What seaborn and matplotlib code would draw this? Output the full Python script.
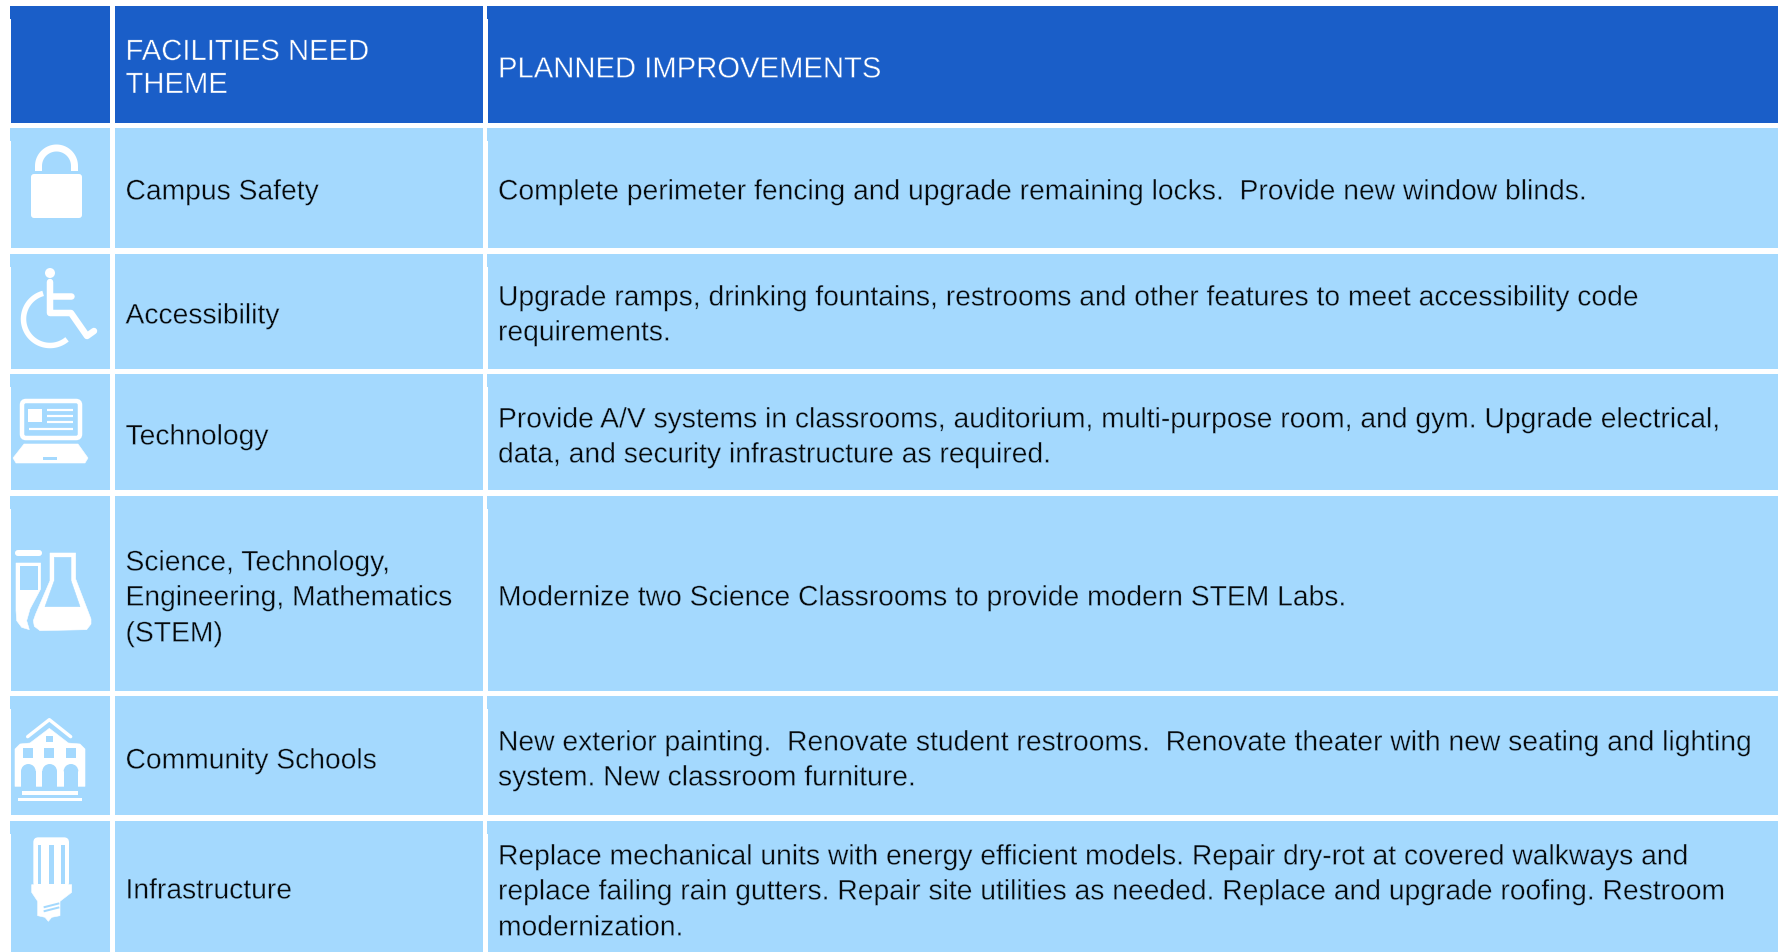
import numpy as np
import matplotlib
matplotlib.use("Agg")
import matplotlib.pyplot as plt
import matplotlib.patheffects as pe
from matplotlib.patches import Polygon, Rectangle, FancyBboxPatch, Circle, Wedge
import seaborn as sns

# === TABLE CONTENT ===
HEADER_THEME = ["FACILITIES NEED", "THEME"]
HEADER_PLAN = ["PLANNED IMPROVEMENTS"]

themes = [
    ["Campus Safety"],
    ["Accessibility"],
    ["Technology"],
    ["Science, Technology,", "Engineering, Mathematics", "(STEM)"],
    ["Community Schools"],
    ["Infrastructure"],
]
improvements = [
    ["Complete perimeter fencing and upgrade remaining locks.  Provide new window blinds."],
    ["Upgrade ramps, drinking fountains, restrooms and other features to meet accessibility code",
     "requirements."],
    ["Provide A/V systems in classrooms, auditorium, multi-purpose room, and gym. Upgrade electrical,",
     "data, and security infrastructure as required."],
    ["Modernize two Science Classrooms to provide modern STEM Labs."],
    ["New exterior painting.  Renovate student restrooms.  Renovate theater with new seating and lighting",
     "system. New classroom furniture."],
    ["Replace mechanical units with energy efficient models. Repair dry-rot at covered walkways and",
     "replace failing rain gutters. Repair site utilities as needed. Replace and upgrade roofing. Restroom",
     "modernization."],
]

# === LAYOUT (pixels) ===
W, H = 1778, 953
COLS = [(11, 110), (115, 483), (488, 1778)]
ROWS = [(7, 124), (129, 249), (255, 370), (375, 491), (497, 692), (697, 816), (822, 953)]
THEME_BASE = [[61, 94], [200.5], [324.5], [445.5], [571.5, 606.5, 642.5], [769.5], [899.5]]
PLAN_BASE = [[78.5], [200.5], [306.5, 341.5], [428.5, 463.5], [606.5], [751.5, 786.5], [865.5, 900.5, 936.5]]
TEXT_X = [125.5, 498]

DARK = "#1A5EC8"
LIGHT = "#A4D9FE"
WHITE = "#FFFFFF"
INK = "#05090C"
FONT = ["Liberation Sans", "DejaVu Sans"]
FS = 20.35
FS_HEAD = 21.05

sns.set_theme(style="white")
plt.rcParams["font.family"] = FONT

fig = plt.figure(figsize=(W / 100, H / 100), dpi=100, facecolor=WHITE)
ax = fig.add_axes([0, 0, 1, 1])


def cell(x0, x1, y0, y1, color):
    sns.barplot(x=[(x0 + x1) / 2], y=[y1 - y0], bottom=y0, width=x1 - x0, native_scale=True,
                color=color, saturation=1, errorbar=None, linewidth=0, ax=ax)


def label(x, y, line, color, size, bg):
    # thin stroke in the cell colour shaves the glyphs down to a light weight
    ax.text(x, y, line, color=color, fontsize=size, va="baseline",
            path_effects=[pe.Stroke(linewidth=0.28, foreground=bg)])


# === CELLS ===
for r, (y0, y1) in enumerate(ROWS):
    color = DARK if r == 0 else LIGHT
    for c, (x0, x1) in enumerate(COLS):
        cell(x0, x1, y0, y1, color)
        if c != 1:
            cell(x0 - 1, x0, y0, y0 + 13, color)

# === TEXT ===
for line, y in zip(HEADER_THEME, THEME_BASE[0]):
    label(TEXT_X[0], y, line, WHITE, FS_HEAD, DARK)
for line, y in zip(HEADER_PLAN, PLAN_BASE[0]):
    label(TEXT_X[1], y, line, WHITE, FS_HEAD, DARK)
for r in range(len(themes)):
    for line, y in zip(themes[r], THEME_BASE[r + 1]):
        label(TEXT_X[0], y, line, INK, FS, LIGHT)
    for line, y in zip(improvements[r], PLAN_BASE[r + 1]):
        label(TEXT_X[1], y, line, INK, FS, LIGHT)


# === ICONS ===
def px(v):
    return v * 0.72  # pixels to points at dpi 100


def poly(pts, color=WHITE, ox=0, oy=0, s=1 / 3, z=5):
    pts = [(ox + a * s, oy + b * s) for a, b in pts]
    ax.add_patch(Polygon(pts, closed=True, facecolor=color, edgecolor=color, linewidth=0.4, zorder=z))


def box(x0, y0, x1, y1, color=WHITE, ox=0, oy=0, s=1 / 3, z=5):
    ax.add_patch(Rectangle((ox + x0 * s, oy + y0 * s), (x1 - x0) * s, (y1 - y0) * s,
                           facecolor=color, edgecolor="none", zorder=z))


def stroke(xs, ys, width, color=WHITE, cap="butt"):
    ax.plot(xs, ys, color=color, lw=px(width), solid_capstyle=cap, solid_joinstyle="round", zorder=8)


def rounded(x0, y0, x1, y1, rad, fc=WHITE, ec="none", lw=0):
    ax.add_patch(FancyBboxPatch((x0 + rad, y0 + rad), x1 - x0 - 2 * rad, y1 - y0 - 2 * rad,
                                boxstyle=f"round,pad={rad},rounding_size={rad}",
                                facecolor=fc, edgecolor=ec, linewidth=px(lw), zorder=5))


# lock
rounded(31, 175, 82, 219, 3)
t = np.radians(np.linspace(180, 360, 40))
stroke(np.r_[38.5, 56.5 + 18 * np.cos(t), 74.5], np.r_[172, 167 + 18 * np.sin(t), 172], 7)

# wheelchair
ax.add_patch(Circle((50, 274), 5, facecolor=WHITE, edgecolor="none", zorder=6))
stroke([50, 50, 71, 87, 94], [283, 314, 314, 337, 332], 6.5, cap="round")
stroke([50, 71], [297, 297], 6.5, cap="round")
t = np.radians(np.linspace(-105, -310, 60))
stroke(50 + 26.5 * np.cos(t), 320 + 26.5 * np.sin(t), 5.5)

# laptop
rounded(22, 402, 80, 439, 4, fc="none", ec=WHITE, lw=4.5)
box(28, 410, 42, 423, s=1)
for y in (411, 417, 423):
    stroke([47, 73], [y, y], 2.2)
stroke([29, 73], [430, 430], 2.2)
poly([(24, 445), (78, 445), (88, 459), (85, 464), (16, 464), (13, 459)], s=1)
box(43, 458, 57, 461, LIGHT, s=1, z=7)

# flask and test tube
poly([(33, 72), (107, 72), (107, 150), (75, 210), (65, 245), (73, 272), (50, 265), (35, 245), (33, 215)], ox=5, oy=540)
box(45, 82, 98, 153, LIGHT, ox=5, oy=540, z=7)
rounded(15, 551, 42, 557, 3)
poly([(135, 42), (212, 42), (212, 120), (258, 240), (258, 255), (245, 272), (105, 275), (88, 262), (85, 245),
      (92, 225), (135, 125)], ox=5, oy=540)
poly([(148, 55), (198, 55), (198, 125), (225, 203), (120, 203), (148, 125)], LIGHT, ox=5, oy=540, z=7)

# school
SX, SY = 5, 700
stroke([SX + 68 / 3, SX + 133 / 3, SX + 197 / 3], [SY + 113 / 3, SY + 62 / 3, SY + 113 / 3], 3.4, cap="round")
poly([(30, 150), (45, 135), (75, 132), (133, 88), (190, 132), (225, 135), (240, 150), (240, 262), (30, 262)], ox=SX, oy=SY)
box(122, 110, 143, 130, LIGHT, ox=SX, oy=SY, z=7)
for a in (53, 118, 183):
    box(a, 148, a + 30, 178, LIGHT, ox=SX, oy=SY, z=7)
for a in (70, 134, 198):
    ax.add_patch(Wedge((SX + a / 3, SY + 217 / 3), 22 / 3, 180, 360, facecolor=LIGHT, edgecolor="none", zorder=7))
    box(a - 22, 217, a + 22, 263, LIGHT, ox=SX, oy=SY, z=7)
box(50, 277, 220, 287, ox=SX, oy=SY)
box(40, 297, 230, 307, ox=SX, oy=SY)

# bulb
BX, BY = 15, 825
rounded(BX + 55 / 3, BY + 40 / 3, BX + 162 / 3, BY + 190 / 3, 5)
for a, b in ((69, 78), (102, 116), (139, 149)):
    box(a, 62, b, 180, LIGHT, ox=BX, oy=BY, z=7)
poly([(50, 182), (170, 182), (170, 205), (135, 232), (135, 275), (110, 280), (100, 292), (90, 280), (68, 275), (68, 232), (50, 205)], ox=BX, oy=BY)
for off in (0, 12):
    stroke([BX + 86 / 3, BX + 133 / 3], [BY + (250 + off) / 3, BY + (238 + off) / 3], 2, color=LIGHT)

ax.set_xlim(0, W)
ax.set_ylim(H, 0)
ax.set_xlabel("")
ax.set_ylabel("")
ax.axis("off")
fig.savefig("out.png", dpi=100, facecolor=WHITE)
